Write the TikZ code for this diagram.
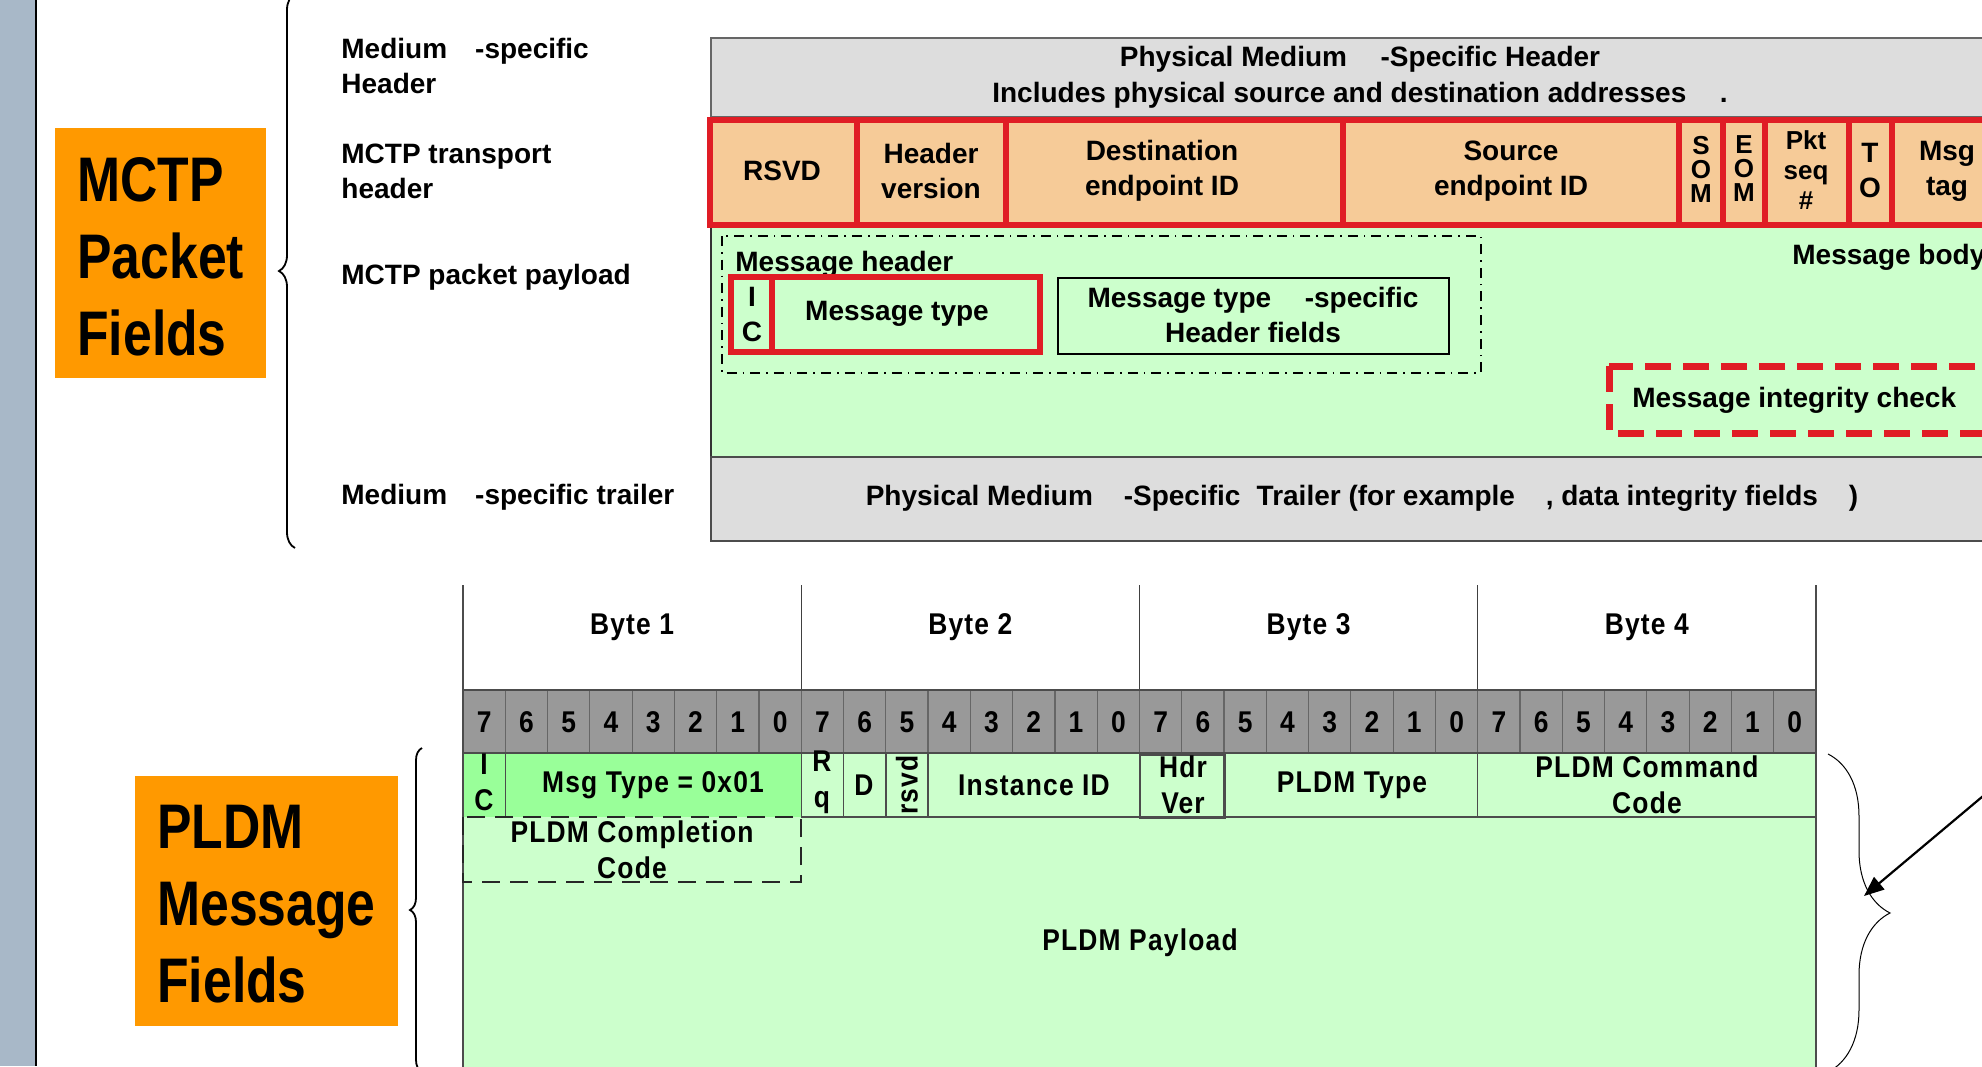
\documentclass[tikz,border=0pt]{standalone}
\usepackage{fontspec}
\setmainfont{Liberation Sans}
\newfontfamily\narrowfont[FakeStretch=0.82]{Liberation Sans}
\newfontfamily\tablefont[FakeStretch=0.88,LetterSpace=4,BoldFont={Liberation Sans Bold}]{Liberation Sans}
\usetikzlibrary{arrows.meta,decorations.pathreplacing}

\definecolor{stripblue}{RGB}{168,184,200}
\definecolor{labelorange}{RGB}{255,153,0}
\definecolor{mediumgray}{RGB}{221,221,221}
\definecolor{hdrpeach}{RGB}{246,203,152}
\definecolor{mctpred}{RGB}{224,29,37}
\definecolor{palegreen}{RGB}{204,255,204}
\definecolor{brightgreen}{RGB}{153,255,153}
\definecolor{bitgray}{RGB}{153,153,153}

\tikzset{
  txt/.style={font=\bfseries\fontsize{14}{17.5}\selectfont, inner sep=0pt, align=center},
  sidetxt/.style={txt, align=left, anchor=west},
  stacktxt/.style={font=\bfseries\fontsize{13}{12}\selectfont, inner sep=0pt, align=center},
  bigtxt/.style={font=\narrowfont\bfseries\fontsize{31.5}{38.5}\selectfont, inner sep=0pt, align=left, anchor=north west},
  tbltxt/.style={font=\tablefont\bfseries\fontsize{15}{18}\selectfont, inner sep=0pt, align=center},
  redframe/.style={draw=mctpred, line width=3.25pt},
  thinline/.style={draw=black!75, line width=0.5pt},
  bitline/.style={draw=black!60, line width=0.6pt},
  fieldline/.style={draw=black!70, line width=0.7pt},
  bracepath/.style={decorate, decoration={brace, amplitude=#1}, line width=0.9pt},
}

\def\bitw{42.28}

\begin{document}
\begin{tikzpicture}[x=0.5pt, y=-0.5pt]
\useasboundingbox (0,0) rectangle (1982,1066);
\clip (0,0) rectangle (1982,1066);

% side strip
\fill[stripblue] (0,0) rectangle (35,1066);
\draw[line width=1pt] (36,0) -- (36,1066);

% MCTP packet
\fill[labelorange] (55,128) rectangle (266,378);
\node[bigtxt] (mctpfields) at (77,157) {MCTP\\Packet\\Fields};
\draw[bracepath=8pt] (295,548) -- (295,-6);

\node[sidetxt] (lblmedhdr) at (341,66) {Medium\hspace{1em}-specific\\Header};
\node[sidetxt] (lbltransport) at (341,171) {MCTP transport\\header};
\node[sidetxt] (lblpayload) at (341,277) {MCTP packet payload};
\node[sidetxt] (lbltrailer) at (341,497) {Medium\hspace{1em}-specific trailer};

% medium specific header
\draw[fill=mediumgray, draw=black!60, line width=0.8pt] (711,38) rectangle (2000,117);
\node[txt, font=\bfseries\fontsize{14}{18}\selectfont] (medhdr) at (1360,77)
  {Physical Medium\hspace{1.2em}-Specific Header\\Includes physical source and destination addresses\hspace{1.2em}.};

% transport header
\fill[hdrpeach] (710,120) rectangle (2000,225);
\draw[redframe] (710,120) rectangle (2010,225);
\foreach \x in {857,1006,1343,1679,1723,1765,1849,1892}
  \draw[redframe] (\x,120) -- (\x,225);

\node[txt] (rsvd) at (782,171) {RSVD};
\node[txt] (hdrversion) at (931,171) {Header\\version};
\node[txt] (dstid) at (1162,171) {Destination\\endpoint ID};
\node[txt] (srcid) at (1511,171) {Source\\endpoint ID};
\node[stacktxt] (som) at (1701,169) {S\\O\\M};
\node[stacktxt] (eom) at (1744,169) {E\\O\\M};
\node[stacktxt, font=\bfseries\fontsize{13}{15}\selectfont] (pktseq) at (1806,170) {Pkt\\seq\\\#};
\node[txt] (tagowner) at (1870,171) {T\\O};
\node[txt] (msgtag) at (1947,171) {Msg\\tag};

% packet payload
\fill[palegreen] (711,228) rectangle (2000,457);
\draw[black!80, line width=0.8pt] (711,228) -- (711,457);
\draw[line width=1.4pt, dash pattern=on 5pt off 3pt on 0.8pt off 3pt] (722,236) rectangle (1481,373);
\node[sidetxt] (msghdr) at (735,264) {Message header};
\draw[redframe, fill=palegreen] (731,277) rectangle (1040,352);
\draw[redframe] (772,277) -- (772,352);
\node[txt] (ichk) at (752,314) {I\\C};
\node[txt] (msgtype) at (897,314) {Message type};
\draw[line width=0.7pt, fill=palegreen] (1058,278) rectangle (1449,354);
\node[txt] (typespec) at (1253,315) {Message type\hspace{1.2em}-specific\\Header fields};
\node[sidetxt] (msgbody) at (1792,257) {Message body};
\draw[draw=mctpred, line width=3.5pt, dash pattern=on 13pt off 6pt] (1609,366) rectangle (2010,433);
\node[sidetxt] (integrity) at (1632,400) {Message integrity check};

% medium specific trailer
\draw[fill=mediumgray, draw=black!70, line width=0.8pt] (711,457) rectangle (2000,541);
\node[txt] (trailer) at (1362,498)
  {Physical Medium\hspace{1.1em}-Specific\hspace{0.3em} Trailer (for example\hspace{1.1em}, data integrity fields\hspace{1.1em})};

% PLDM message
\fill[labelorange] (135,776) rectangle (398,1026);
\node[bigtxt] (pldmfields) at (157,805) {PLDM\\Message\\Fields};
\draw[bracepath=6pt] (422,1072) -- (422,748);

% byte header
\foreach \k in {0,...,4}
  \draw[thinline] ({463+338.25*\k},585) -- ({463+338.25*\k},690);
\foreach \k in {1,...,4}
  \node[tbltxt] (byte\k) at ({463+338.25*(\k-0.5)},627) {Byte \k};

% bit numbers
\fill[bitgray] (463,690) rectangle (1816,753);
\foreach \i in {0,...,31}{
  \pgfmathtruncatemacro\b{7-mod(\i,8)}
  \draw[bitline] ({463+\bitw*\i},690) -- ({463+\bitw*\i},753);
  \node[tbltxt] (bit\i) at ({463+\bitw*(\i+0.5)},722) {\b};
}
\draw[black!70, line width=1pt] (463,690) -- (1816,690);

% header fields
\fill[palegreen] (463,753) rectangle (1816,1080);
\fill[brightgreen] (463,753) rectangle (801,817);
\draw[fieldline] (463,753) -- (1816,753);
\draw[fieldline] (801,817) -- (1816,817);
\foreach \i in {1,8,9,10,11,16,18,24}
  \draw[fieldline] ({463+\bitw*\i},753) -- ({463+\bitw*\i},817);
\draw[fieldline] (1140,755) rectangle (1225,818);
\draw[fieldline] (463,585) -- (463,1080);
\draw[fieldline] (1816,585) -- (1816,1080);

\node[tbltxt] (icbit) at (484,782) {I\\C};
\node[tbltxt] (msgtypeval) at (653,785) {Msg Type = 0x01};
\node[tbltxt] (rqbit) at (822,782) {R\\q};
\node[tbltxt] (dbit) at (864,785) {D};
\node[tbltxt, rotate=90] (rsvdbit) at (907,785) {rsvd};
\node[tbltxt] (instid) at (1034,785) {Instance ID};
\node[tbltxt] (hdrver) at (1183,785) {Hdr\\Ver};
\node[tbltxt] (pldmtype) at (1352,785) {PLDM Type};
\node[tbltxt] (cmdcode) at (1647,785) {PLDM Command\\Code};

\draw[black!85, line width=1.3pt, dash pattern=on 9pt off 5pt] (463,817) rectangle (801,882);
\node[tbltxt] (compcode) at (632,850) {PLDM Completion\\Code};
\node[tbltxt] (payload) at (1140,943) {PLDM Payload};

% right brace and pointer
\draw[bracepath=31pt, line width=0.5pt] (1828,754) -- (1828,1072);
\coordinate (arrowtail) at (1995,786);
\coordinate (bracetip) at (1864,896);
\draw[line width=1.1pt, -{Triangle[length=10pt,width=8pt]}] (arrowtail) -- (bracetip);
\end{tikzpicture}
\end{document}
